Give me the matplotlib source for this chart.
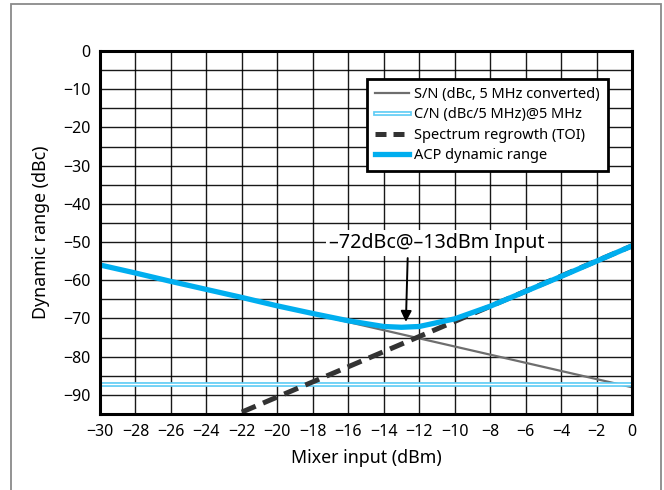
import matplotlib
matplotlib.use("Agg")
import matplotlib.pyplot as plt
from matplotlib.patches import Rectangle
from matplotlib.lines import Line2D
from matplotlib.legend_handler import HandlerTuple

plt.rcParams['font.family'] = ['Noto Sans', 'DejaVu Sans']

# Data
mixer_input = [-30, -28, -26, -24, -22, -20, -18, -16, -14, -13, -12, -10, -8, -6, -4, -2, 0]
sn_x = [-30, 0]
sn_y = [-56, -88]
cn_x = [-30, 0]
cn_y = [-87.2, -87.2]
toi_x = [-22, 0]
toi_y = [-94.5, -51]
acp_y = [-56.0, -58.1, -60.3, -62.4, -64.5, -66.7, -68.7, -70.6, -72.1, -72.3, -72.1,
         -70.1, -66.8, -62.9, -59.0, -55.0, -51.0]

x_ticks = list(range(-30, 1, 2))
y_ticks = list(range(-90, 1, 10))

fig = plt.figure(figsize=(6.64, 4.9), dpi=100)
ax = fig.add_axes([100/664, 1-414/490, 532/664, 363/490])

# outer frame
fig.patches.append(Rectangle((11/664, -0.05), 650/664, 1.05 - 4/490,
                             transform=fig.transFigure, fill=False,
                             edgecolor='#8a8a8a', lw=1.3, zorder=0))

ax.set_xlim(-30, 0)
ax.set_ylim(-95, 0)
ax.set_xticks(x_ticks)
ax.set_yticks(y_ticks)
ax.set_yticks(list(range(-95, 0, 5)), minor=True)
ax.grid(True, which='both', color='black', lw=1.0, alpha=0.9, zorder=1)
ax.tick_params(which='both', length=0, labelsize=11.5, pad=7)
for s in ax.spines.values():
    s.set_linewidth(2.2)
    s.set_zorder(10)

ax.plot(sn_x, sn_y, color='#6e6e6e', lw=1.6, zorder=3)
ax.plot(cn_x, cn_y, color='#5ccbf5', lw=3.4, zorder=3, solid_capstyle='butt')
ax.plot(cn_x, cn_y, color='white', lw=1.0, zorder=3.1, solid_capstyle='butt')
ax.plot(toi_x, toi_y, color='#333333', lw=3.6, dashes=(3.0, 1.6), zorder=4)
ax.plot(mixer_input, acp_y, color='#00aeef', lw=3.8, zorder=5, solid_capstyle='butt')

ax.set_xlabel('Mixer input (dBm)', fontsize=12.8, labelpad=7)
ax.set_ylabel('Dynamic range (dBc)', fontsize=12.8, labelpad=9)

ax.text(-11.0, -50.3, '\u201372dBc@\u201313dBm Input', ha='center', va='center',
        fontsize=14.2, zorder=8,
        bbox=dict(boxstyle='square,pad=0.15', fc='white', ec='none'))
ax.annotate('', xy=(-12.75, -70.9), xytext=(-12.65, -54.2), zorder=8,
            arrowprops=dict(arrowstyle='-|>', color='black', lw=1.4,
                            mutation_scale=16, shrinkA=0, shrinkB=0))

handles = [
    Line2D([], [], color='#6e6e6e', lw=1.6),
    (Line2D([], [], color='#5ccbf5', lw=3.4), Line2D([], [], color='white', lw=1.0)),
    Line2D([], [], color='#333333', lw=3.6, dashes=(2.2, 1.4)),
    Line2D([], [], color='#00aeef', lw=3.8),
]
labels = ['S/N (dBc, 5 MHz converted)', 'C/N (dBc/5 MHz)@5 MHz',
          'Spectrum regrowth (TOI)', 'ACP dynamic range']
leg = ax.legend(handles, labels, loc='upper right', bbox_to_anchor=(0.955, 0.923),
                fontsize=10.5, frameon=True, fancybox=False, framealpha=1,
                edgecolor='black', handlelength=2.3, handletextpad=0.4,
                labelspacing=0.37, borderpad=0.55, borderaxespad=0,
                handler_map={tuple: HandlerTuple(ndivide=1, pad=0)})
leg.get_frame().set_linewidth(2.0)
leg.set_zorder(9)

fig.savefig('out.png', dpi=100)
